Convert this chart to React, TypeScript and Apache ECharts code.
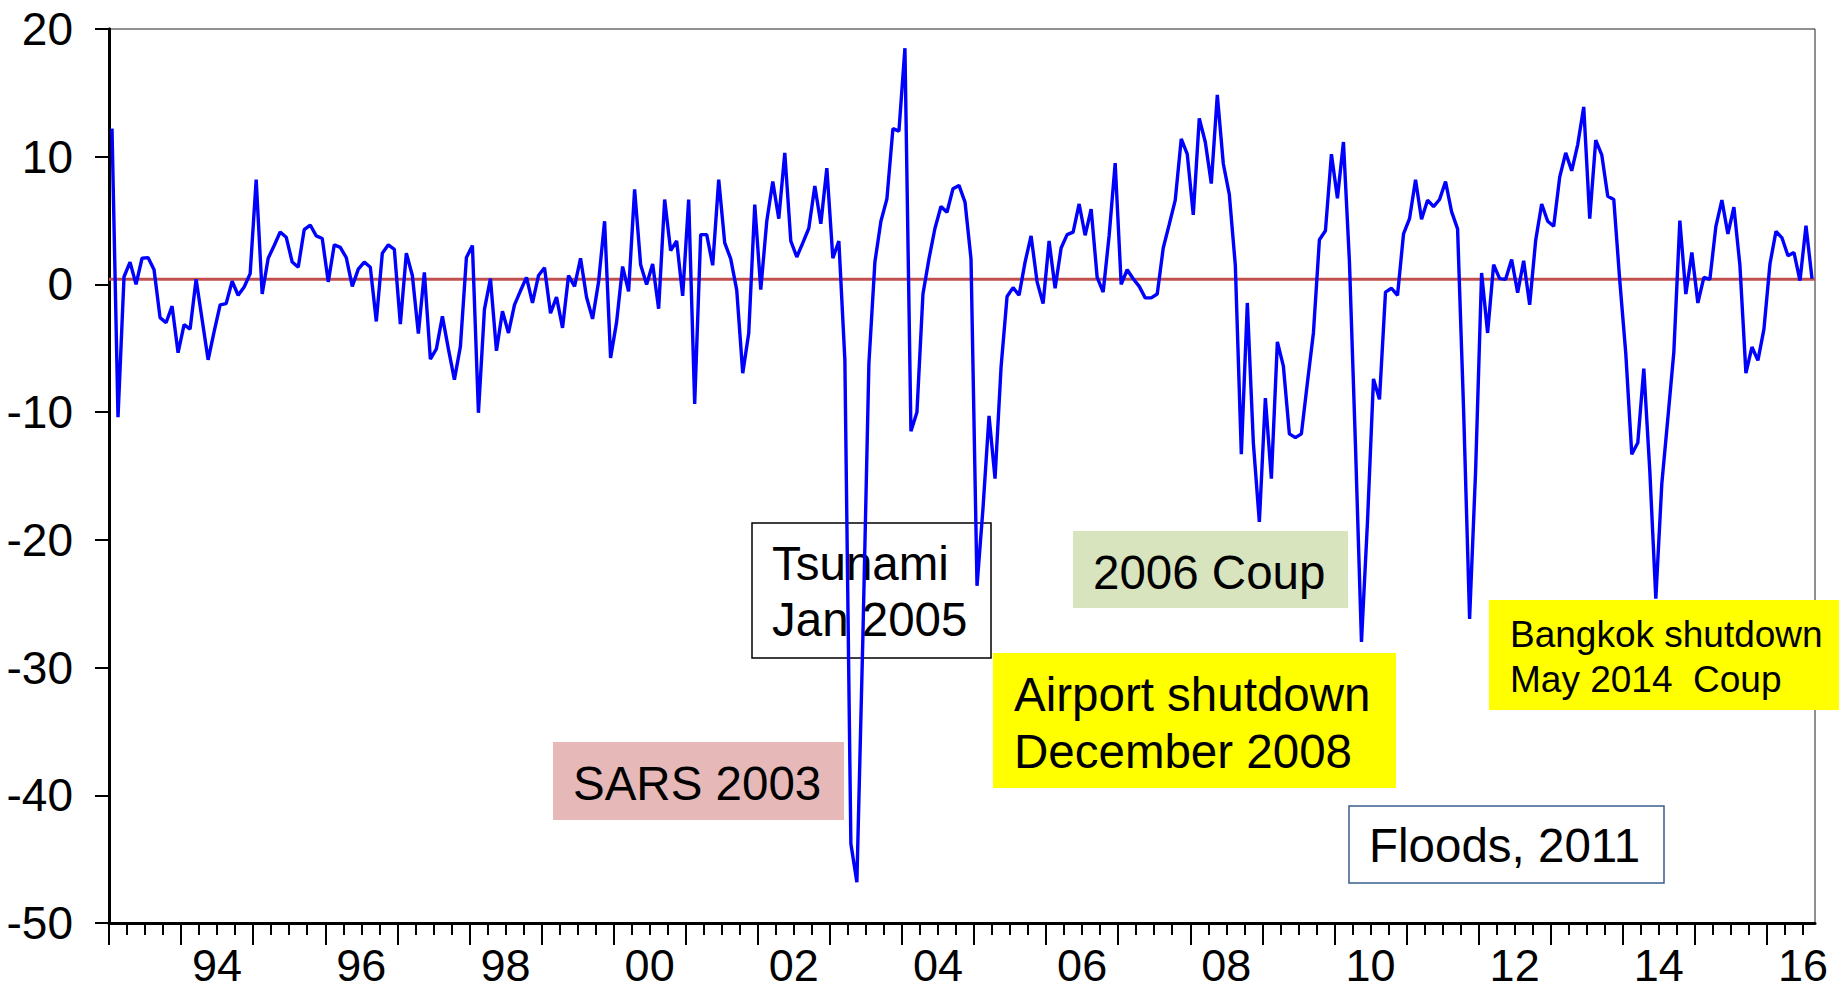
import React, { useEffect, useRef } from "react";
import * as echarts from "echarts";

// Monthly series, 1993M01 .. 2016M08
const startYear = 1993;
const values1993to1996 = [
  12.2, -10.4, 0.6, 1.75, 0.0, 2.05, 2.1, 1.15, -2.6, -3.0, -1.7, -5.35,
  -3.15, -3.5, 0.4, -2.75, -5.9, -3.7, -1.6, -1.5, 0.25, -0.85, -0.2, 0.85,
  8.2, -0.75, 2.05, 3.05, 4.1, 3.7, 1.75, 1.35, 4.3, 4.65, 3.8, 3.6,
  0.2, 3.1, 2.9, 2.1, -0.15, 1.2, 1.75, 1.35, -2.9, 2.45, 3.1, 2.75,
];
const values1997to2000 = [
  -3.1, 2.45, 0.7, -3.85, 0.95, -5.85, -5.05, -2.5, -5.05, -7.45, -4.85, 2.1,
  3.05, -10.05, -1.95, 0.45, -5.2, -2.1, -3.8, -1.6, -0.5, 0.55, -1.45, 0.7,
  1.3, -2.25, -1.0, -3.4, 0.7, -0.15, 2.05, -1.0, -2.7, 0.2, 4.95, -5.75,
  -2.95, 1.4, -0.55, 7.45, 1.55, 0.0, 1.6, -1.9, 6.65, 2.65, 3.4, -0.9,
];
const values2001to2004 = [
  6.65, -9.35, 3.9, 3.9, 1.5, 8.2, 3.25, 2.0, -0.45, -6.95, -3.8, 6.25,
  -0.4, 4.95, 8.05, 5.15, 10.3, 3.4, 2.15, 3.25, 4.4, 7.7, 4.75, 9.1,
  2.05, 3.4, -5.9, -43.8, -46.8, -27.6, -6.2, 1.75, 4.95, 6.7, 12.2, 12.0,
  18.5, -11.5, -10.0, -0.75, 2.0, 4.4, 6.1, 5.65, 7.5, 7.75, 6.45, 2.0,
];
const values2005to2008 = [
  -23.6, -17.5, -10.3, -15.2, -6.5, -0.95, -0.25, -0.85, 1.75, 3.8, 0.2, -1.5,
  3.4, -0.3, 2.85, 3.9, 4.1, 6.3, 3.85, 5.9, 0.55, -0.6, 3.85, 9.5,
  0.0, 1.15, 0.45, -0.15, -1.05, -1.05, -0.75, 2.85, 4.7, 6.6, 11.4, 10.2,
  5.45, 13.0, 11.15, 7.9, 14.85, 9.45, 7.05, 1.5, -13.3, -1.45, -12.4, -18.6,
];
const values2009to2012 = [
  -8.9, -15.2, -4.5, -6.4, -11.7, -12.0, -11.7, -7.7, -3.8, 3.5, 4.2, 10.2,
  6.75, 11.15, 1.75, -12.6, -28.0, -18.6, -7.4, -9.0, -0.6, -0.3, -0.85, 3.95,
  5.15, 8.2, 5.1, 6.6, 6.1, 6.65, 8.05, 5.7, 4.35, -9.8, -26.2, -14.6,
  0.9, -3.8, 1.55, 0.45, 0.4, 1.95, -0.65, 1.85, -1.6, 3.45, 6.3, 4.95,
];
const values2013to2016 = [
  4.55, 8.4, 10.3, 8.9, 10.95, 13.9, 5.15, 11.3, 10.15, 6.9, 6.65, 0.3,
  -5.4, -13.3, -12.4, -6.6, -14.6, -24.6, -15.6, -10.5, -5.3, 5.0, -0.75, 2.5,
  -1.45, 0.55, 0.4, 4.55, 6.6, 3.95, 6.05, 1.5, -6.95, -4.9, -5.95, -3.5,
  1.6, 4.15, 3.65, 2.25, 2.5, 0.3, 4.6, 0.45,
];
const meanLevel = 0.4;
const labelledYears = [1994, 1996, 1998, 2000, 2002, 2004, 2006, 2008, 2010, 2012, 2014, 2016];

const allValues = [
  ...values1993to1996,
  ...values1997to2000,
  ...values2001to2004,
  ...values2005to2008,
  ...values2009to2012,
  ...values2013to2016,
];
const nMonths = allValues.length;

const FONT = "'Liberation Sans', Arial, sans-serif";

export default function App() {
  const ref = useRef<HTMLDivElement>(null);

  useEffect(() => {
    if (!ref.current) return;
    const chart = echarts.init(ref.current, undefined, { renderer: "svg" });

    const seriesData = allValues.map((v, i) => [i + 0.5, v]);
    const yearStarts: number[] = [];
    const quarterStarts: number[] = [];
    for (let m = 0; m <= nMonths; m += 3) {
      if (m % 12 === 0) {
        if (m < nMonths) yearStarts.push(m);
      } else quarterStarts.push(m);
    }
    const labelPositions = labelledYears.map((y) => (y - startYear) * 12 + 6);

    const text = (x: number, y: number, s: string, size: number) => ({
      type: "text",
      x,
      y,
      z: 1,
      style: {
        text: s,
        fill: "#000",
        fontSize: size,
        fontFamily: FONT,
        textAlign: "left",
        verticalAlign: "middle",
      },
    });
    const box = (x: number, y: number, w: number, h: number, fill: string, stroke?: string) => ({
      type: "rect",
      z: 1,
      shape: { x, y, width: w, height: h },
      style: { fill, stroke: stroke || "none", lineWidth: stroke ? 1.5 : 0 },
    });

    const option: any = {
      animation: false,
      backgroundColor: "#fff",
      textStyle: { fontFamily: FONT },
      grid: {
        left: 109,
        top: 29,
        width: 1706,
        height: 894,
        show: true,
        borderColor: "#222",
        borderWidth: 1,
        backgroundColor: "transparent",
      },
      xAxis: [
        {
          type: "value",
          min: 0,
          max: nMonths,
          position: "bottom",
          axisLine: { show: true, onZero: false, lineStyle: { color: "#000", width: 3 } },
          axisTick: {
            show: true,
            inside: false,
            length: 22,
            customValues: yearStarts,
            lineStyle: { color: "#000", width: 2 },
          },
          axisLabel: {
            show: true,
            customValues: labelPositions,
            formatter: (v: number) => String((startYear + Math.floor(v / 12)) % 100).padStart(2, "0"),
            fontSize: 45,
            lineHeight: 44,
            fontFamily: FONT,
            color: "#000",
            margin: 20,
          },
          splitLine: { show: false },
        },
        {
          type: "value",
          min: 0,
          max: nMonths,
          position: "bottom",
          axisLine: { show: false, onZero: false },
          axisTick: {
            show: true,
            inside: false,
            length: 12,
            customValues: quarterStarts,
            lineStyle: { color: "#000", width: 2 },
          },
          axisLabel: { show: false },
          splitLine: { show: false },
        },
      ],
      yAxis: [
        {
          type: "value",
          min: -50,
          max: 20,
          interval: 10,
          axisLine: { show: true, lineStyle: { color: "#000", width: 3 } },
          axisTick: { show: true, length: 14, lineStyle: { color: "#000", width: 2 } },
          axisLabel: { fontSize: 46, fontFamily: FONT, color: "#000", margin: 36 },
          splitLine: { show: false },
        },
        {
          type: "value",
          min: -50,
          max: 20,
          interval: 10,
          position: "right",
          axisLine: { show: true, lineStyle: { color: "#000", width: 3 } },
          axisTick: { show: false },
          axisLabel: { show: false },
          splitLine: { show: false },
        },
      ],
      series: [
        {
          name: "mean",
          type: "line",
          xAxisIndex: 0,
          yAxisIndex: 0,
          data: [
            [0, meanLevel],
            [nMonths, meanLevel],
          ],
          symbol: "none",
          lineStyle: { color: "#c0504d", width: 3 },
          z: 2,
          silent: true,
        },
        {
          name: "series",
          type: "line",
          xAxisIndex: 0,
          yAxisIndex: 0,
          data: seriesData,
          symbol: "none",
          showSymbol: false,
          lineStyle: { color: "#0000ff", width: 3.4 },
          z: 5,
        },
      ],
      graphic: [
        box(752, 523, 239, 135, "#ffffff", "#000000"),
        text(772, 563, "Tsunami", 47.5),
        text(772, 619, "Jan 2005", 47.5),
        box(1073, 531, 275, 77, "#d7e4bd"),
        text(1093, 572, "2006 Coup", 47.5),
        box(553, 742, 291, 78, "#e6b9b8"),
        text(573, 783, "SARS 2003", 47.5),
        box(993, 653, 403, 135, "#ffff00"),
        text(1014, 694, "Airport shutdown", 47.5),
        text(1014, 751, "December 2008", 47.5),
        box(1349, 806, 315, 77, "#ffffff", "#385d8a"),
        text(1369, 845, "Floods, 2011", 47.5),
        box(1489, 600, 350, 110, "#ffff00"),
        text(1510, 634, "Bangkok shutdown", 37),
        text(1510, 679, "May 2014  Coup", 37),
      ],
    };

    chart.setOption(option);
    return () => chart.dispose();
  }, []);

  return (
    <div
      ref={ref}
      style={{ position: "absolute", left: 0, top: 0, width: 1839, height: 989, background: "#fff" }}
    />
  );
}
